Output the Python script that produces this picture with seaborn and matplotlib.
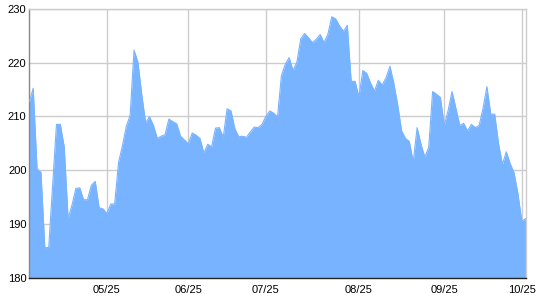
import matplotlib
matplotlib.use("Agg")
import matplotlib.pyplot as plt
import seaborn as sns
import pandas as pd
import numpy as np

values = [
    212.7, 215.2, 200.2, 199.6, 185.6, 185.6, 197.0, 208.5, 208.5, 204.3,
    191.0, 193.5, 196.6, 196.7, 194.5, 194.5, 197.2, 197.9, 193.0, 192.8,
    191.9, 193.7, 193.7, 201.4, 204.5, 208.1, 210.2, 222.3, 220.1, 214.0,
    208.8, 209.9, 208.3, 205.9, 206.3, 206.6, 209.5, 209.0, 208.6, 206.3,
    205.6, 204.9, 206.9, 206.5, 205.9, 203.2, 204.8, 204.3, 207.8, 207.9,
    206.1, 211.4, 211.0, 207.7, 206.2, 206.3, 206.1, 207.1, 208.0, 207.9,
    208.5, 210.0, 211.0, 210.6, 209.9, 217.5, 219.7, 220.9, 218.5, 220.1,
    224.4, 225.4, 224.6, 223.7, 224.3, 225.2, 223.7, 225.3, 228.5, 228.1,
    226.8, 225.8, 226.9, 216.5, 216.5, 213.6, 218.5, 218.0, 216.2, 214.7,
    216.7, 215.8, 217.2, 219.3, 216.1, 212.1, 207.3, 205.9, 205.3, 201.5,
    207.9, 204.8, 202.4, 204.3, 214.6, 214.1, 213.5, 208.3, 211.1, 214.6,
    211.5, 208.3, 208.7, 207.3, 208.5, 207.9, 208.3, 211.5, 215.5, 210.4,
    210.4, 204.9, 201.1, 203.4, 201.2, 199.5, 195.6, 190.5, 191.0,
]
day_index = list(range(len(values)))
tick_days = [20, 41, 61, 85, 107, 127]
tick_labels = ["05/25", "06/25", "07/25", "08/25", "09/25", "10/25"]
y_ticks = [180, 190, 200, 210, 220, 230]

df = pd.DataFrame({"day": day_index, "price": values})

sns.set_theme(style="white")
plt.rcParams["font.family"] = ["Liberation Sans", "DejaVu Sans"]

fig = plt.figure(figsize=(5.4, 3.0), dpi=100)
ax = fig.add_axes([0.0543, 0.0743, 0.9192, 0.8967])

fill_color = "#77b3fe"
ax.fill_between(df["day"], df["price"], 180, color=fill_color, linewidth=0, zorder=2)
sns.lineplot(data=df, x="day", y="price", ax=ax, color=fill_color, linewidth=0.8, zorder=3)

ax.set_xlim(0, len(values) - 1)
ax.set_ylim(180, 230)
ax.set_xticks(tick_days)
ax.set_xticklabels(tick_labels)
ax.set_xticks(day_index, minor=True)
ax.set_yticks(y_ticks)
ax.set_yticklabels([str(v) for v in y_ticks])

ax.grid(True, which="major", color="#cccccc", linewidth=1.0, zorder=0)
ax.set_axisbelow(True)

ax.tick_params(axis="x", which="both", direction="out", length=3, width=0.8,
               color="black", labelsize=8, pad=2, labelcolor="black")
ax.tick_params(axis="y", which="both", length=0, labelsize=8, pad=2, labelcolor="black")

ax.spines["left"].set_color("#888888")
ax.spines["bottom"].set_color("#222222")
ax.spines["top"].set_color("#cccccc")
ax.spines["right"].set_color("#cccccc")
for s in ax.spines.values():
    s.set_linewidth(1.0)
    s.set_visible(True)

ax.set_xlabel("")
ax.set_ylabel("")

fig.savefig("out.png", dpi=100)
